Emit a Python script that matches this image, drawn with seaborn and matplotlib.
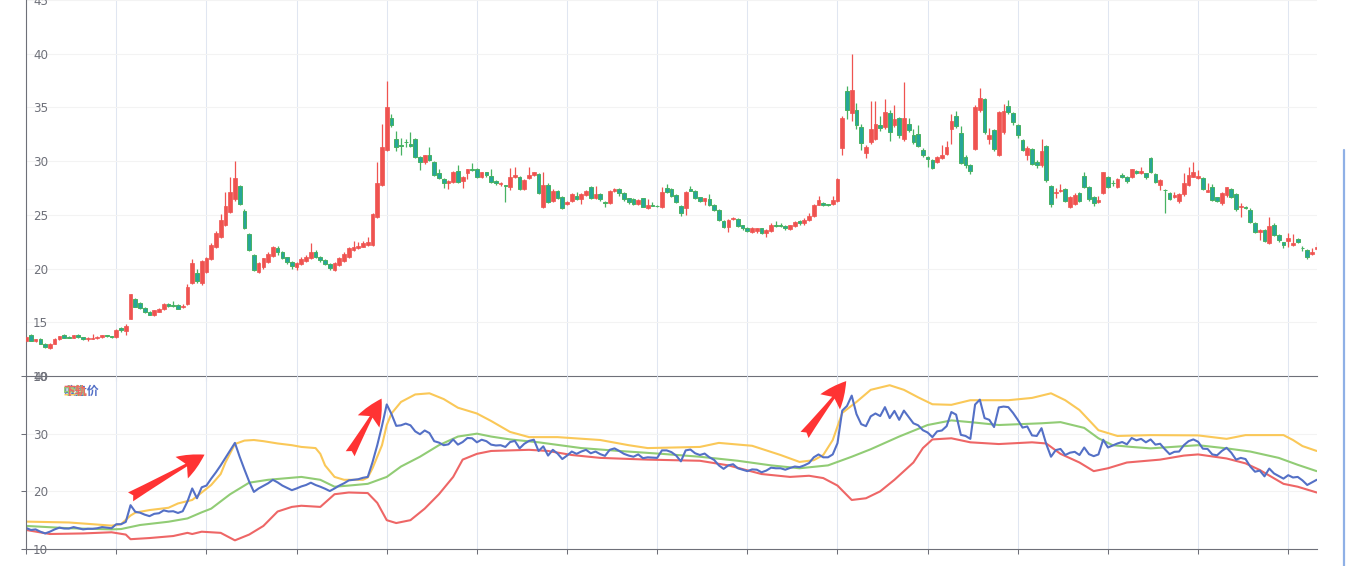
import numpy as np
import matplotlib
matplotlib.use("Agg")
import matplotlib.pyplot as plt
from matplotlib.lines import Line2D
import seaborn as sns

# ---------------- data ----------------
opens = [13.3, 13.8, 13.3, 13.4, 13.0, 12.65, 13.0, 13.4, 13.85, 13.6, 13.55, 13.85, 13.6, 13.4, 13.45, 13.5, 13.6, 13.8, 13.7, 13.6,
         14.45, 14.2, 15.35, 17.2, 16.8, 16.3, 16.0, 15.65, 16.0, 16.2, 16.7, 16.65, 16.6, 16.4, 16.7, 18.7, 19.6, 18.7, 19.7, 20.85,
         22.0, 22.9, 24.1, 25.3, 26.5, 27.7, 25.4, 23.2, 21.3, 19.65, 20.1, 20.6, 21.2, 21.95, 21.5, 21.05, 20.6, 20.1, 20.4, 20.7,
         21.0, 21.5, 21.1, 20.8, 20.45, 19.85, 20.3, 20.7, 21.1, 21.7, 21.9, 22.05, 22.2, 22.2, 24.8, 27.8, 31.0, 34.0, 32.1, 31.5,
         31.8, 31.55, 32.1, 30.4, 29.9, 30.6, 29.9, 28.85, 28.3, 28.0, 28.1, 29.1, 28.15, 28.85, 29.3, 29.3, 28.55, 28.95, 28.65, 28.15,
         27.85, 27.75, 27.55, 28.55, 28.55, 27.4, 28.4, 28.7, 28.8, 25.7, 27.8, 26.3, 27.2, 26.7, 26.05, 26.3, 26.8, 26.45, 26.85, 27.6,
         26.6, 26.95, 26.2, 26.1, 27.2, 27.45, 27.0, 26.55, 26.5, 26.0, 26.55, 25.6, 25.95, 25.85, 25.7, 27.5, 27.45, 26.85, 25.85, 25.6,
         27.45, 27.2, 26.65, 26.3, 26.5, 25.95, 25.45, 24.4, 23.9, 24.6, 24.65, 24.05, 23.8, 23.45, 23.5, 23.75, 23.3, 23.5, 24.1, 24.05,
         24.0, 23.7, 24.0, 24.4, 24.2, 24.5, 24.9, 25.95, 26.1, 26.0, 26.0, 26.3, 31.2, 36.5, 34.5, 34.8, 33.2, 30.8, 31.75, 32.1,
         33.4, 33.2, 34.5, 33.4, 34.0, 32.1, 33.5, 32.4, 32.5, 31.0, 30.35, 30.1, 29.9, 30.3, 30.7, 33.0, 34.2, 32.6, 30.4, 29.6,
         31.1, 34.75, 35.75, 32.1, 32.9, 30.6, 32.7, 35.1, 34.5, 33.4, 32.0, 30.6, 31.1, 29.9, 29.6, 31.4, 27.7, 27.05, 27.2, 27.4,
         25.7, 26.0, 27.05, 28.6, 27.6, 26.7, 26.2, 27.05, 28.5, 28.0, 27.55, 28.7, 28.55, 28.5, 29.1, 28.9, 28.85, 30.3, 28.8, 27.8,
         27.35, 27.0, 26.7, 26.3, 26.9, 27.8, 28.55, 28.4, 28.4, 27.15, 27.55, 26.65, 26.1, 26.85, 27.4, 26.95, 25.7, 25.75, 25.45, 24.2,
         23.45, 23.6, 22.35, 24.05, 23.1, 22.45, 22.6, 22.2, 22.75, 21.95, 21.75, 21.4, 21.8]
highs = [13.7, 13.9, 13.45, 13.5, 13.1, 13.05, 13.5, 13.75, 13.95, 13.7, 13.85, 13.9, 13.65, 13.6, 13.95, 13.7, 13.85, 13.85, 13.75, 14.35,
         14.55, 14.8, 17.65, 17.3, 16.9, 16.4, 16.05, 16.15, 16.3, 16.75, 16.8, 17.0, 16.7, 16.7, 18.6, 20.9, 20.0, 20.8, 21.1, 22.4,
         23.5, 25.1, 27.1, 28.55, 30.0, 27.8, 25.5, 23.3, 21.4, 20.6, 21.0, 21.5, 22.1, 22.1, 21.6, 21.1, 20.7, 20.6, 21.1, 21.3,
         22.35, 21.7, 21.2, 20.9, 20.5, 20.6, 21.1, 21.5, 22.0, 22.6, 22.5, 22.6, 22.9, 25.2, 29.95, 33.5, 37.46, 34.4, 32.8, 32.2,
         32.1, 32.7, 32.2, 30.5, 30.6, 31.3, 30.0, 29.3, 28.4, 28.2, 29.1, 29.6, 28.6, 29.3, 29.8, 29.4, 29.0, 29.0, 29.3, 28.2,
         28.1, 27.8, 29.4, 29.5, 28.6, 28.3, 29.5, 29.0, 28.9, 29.0, 28.0, 27.4, 27.3, 26.8, 26.3, 27.0, 27.1, 27.0, 27.3, 27.7,
         27.7, 27.0, 26.3, 27.3, 27.5, 27.5, 27.1, 26.6, 26.6, 26.5, 26.6, 26.5, 26.2, 25.9, 27.6, 27.9, 27.5, 26.9, 25.9, 27.2,
         27.7, 27.3, 26.7, 26.6, 26.9, 26.0, 25.5, 24.5, 24.6, 24.8, 24.7, 24.1, 23.9, 23.9, 23.8, 23.8, 23.7, 24.2, 24.4, 24.2,
         24.1, 24.1, 24.4, 24.5, 24.7, 25.2, 26.0, 26.8, 26.2, 26.05, 26.8, 28.4, 34.2, 37.0, 40.0, 35.4, 33.5, 31.5, 35.6, 35.6,
         34.2, 35.8, 34.8, 35.2, 34.1, 37.4, 34.0, 33.0, 33.4, 31.2, 30.5, 30.2, 30.5, 31.5, 31.9, 34.4, 34.7, 33.3, 30.6, 29.7,
         35.2, 36.8, 35.9, 33.1, 33.0, 34.7, 35.3, 35.7, 34.6, 33.5, 32.1, 31.4, 31.2, 30.1, 32.1, 31.5, 27.8, 27.5, 27.9, 27.5,
         26.8, 27.0, 27.1, 28.96, 27.7, 26.8, 26.8, 29.0, 28.6, 28.2, 28.4, 28.9, 28.6, 29.3, 29.2, 29.5, 28.9, 30.4, 28.9, 28.3,
         27.4, 27.1, 27.1, 27.0, 28.9, 29.5, 29.9, 29.2, 28.5, 28.0, 27.9, 26.7, 27.1, 27.6, 27.5, 27.0, 26.1, 25.8, 25.6, 24.3,
         23.7, 23.7, 24.8, 24.2, 23.2, 22.5, 23.3, 23.2, 22.8, 22.1, 21.8, 21.9, 22.5]
lows = [13.2, 13.25, 13.2, 12.95, 12.6, 12.55, 12.95, 13.35, 13.5, 13.5, 13.5, 13.55, 13.35, 13.3, 13.4, 13.45, 13.55, 13.6, 13.55, 13.55,
        14.1, 13.8, 15.3, 16.4, 16.2, 15.9, 15.65, 15.55, 15.95, 16.15, 16.45, 16.4, 16.2, 16.35, 16.65, 18.6, 18.7, 18.5, 19.6, 20.8,
        21.9, 22.8, 24.0, 25.2, 26.3, 25.9, 23.7, 21.6, 19.8, 19.6, 20.0, 20.5, 21.1, 21.3, 20.9, 20.4, 20.0, 19.9, 20.3, 20.6,
        20.9, 21.0, 20.6, 20.3, 19.9, 19.8, 20.2, 20.6, 21.0, 21.6, 21.8, 22.0, 22.1, 22.1, 24.7, 27.7, 30.9, 33.2, 30.9, 30.6,
        31.3, 31.3, 30.3, 29.2, 29.7, 30.0, 28.6, 28.3, 27.5, 27.4, 28.0, 28.0, 27.5, 28.3, 29.1, 28.4, 28.4, 28.5, 28.0, 27.8,
        27.7, 26.2, 27.3, 28.4, 27.3, 27.3, 28.3, 28.6, 26.9, 25.6, 26.1, 26.2, 26.5, 25.5, 25.9, 26.2, 26.4, 26.0, 26.8, 26.5,
        26.5, 26.3, 25.7, 26.0, 27.1, 26.8, 26.3, 26.0, 25.9, 25.9, 25.7, 25.5, 25.8, 25.7, 25.6, 27.0, 26.7, 26.1, 24.9, 25.0,
        27.2, 26.5, 26.2, 25.9, 25.8, 25.4, 24.4, 23.8, 23.4, 24.5, 23.9, 23.6, 23.4, 23.3, 23.3, 23.2, 22.9, 23.4, 23.9, 23.9,
        23.6, 23.6, 23.9, 24.1, 24.1, 24.4, 24.8, 25.9, 25.8, 25.8, 25.9, 26.2, 30.6, 33.9, 33.7, 33.0, 31.0, 30.3, 31.6, 32.0,
        32.8, 33.0, 31.9, 33.2, 32.2, 31.9, 32.7, 31.6, 31.3, 30.4, 29.5, 29.3, 29.8, 30.2, 30.6, 31.6, 33.1, 29.7, 29.4, 28.8,
        31.0, 34.6, 32.5, 31.6, 30.9, 30.5, 32.5, 34.4, 33.4, 32.2, 30.9, 30.1, 29.6, 29.4, 29.5, 28.1, 25.7, 26.6, 27.1, 26.2,
        25.6, 25.9, 26.2, 27.5, 26.3, 25.8, 26.1, 26.9, 27.5, 27.7, 27.5, 28.4, 28.0, 28.4, 28.8, 28.8, 28.3, 28.9, 28.0, 27.3,
        25.15, 26.4, 26.6, 26.1, 26.8, 27.7, 28.5, 28.3, 27.3, 27.1, 26.3, 26.2, 25.9, 26.7, 26.6, 25.4, 24.8, 25.5, 24.2, 23.3,
        22.7, 22.5, 22.3, 23.0, 22.5, 21.9, 22.0, 22.1, 22.4, 21.6, 20.9, 21.3, 21.7]
closes = [13.65, 13.3, 13.4, 13.0, 12.7, 13.0, 13.4, 13.7, 13.55, 13.55, 13.8, 13.6, 13.4, 13.5, 13.5, 13.6, 13.8, 13.7, 13.6, 14.3,
          14.3, 14.7, 17.6, 16.45, 16.3, 15.95, 15.7, 16.1, 16.2, 16.7, 16.5, 16.55, 16.25, 16.55, 18.25, 20.5, 18.8, 20.7, 21.0, 22.2,
          23.3, 24.5, 25.8, 27.1, 28.4, 26.0, 23.8, 21.7, 19.9, 20.5, 20.95, 21.4, 22.0, 21.55, 21.0, 20.6, 20.2, 20.5, 20.85, 21.1,
          21.5, 21.1, 20.8, 20.45, 20.05, 20.5, 21.0, 21.4, 21.9, 22.0, 22.1, 22.35, 22.5, 25.05, 28.0, 31.35, 35.07, 33.4, 31.35, 31.45,
          31.75, 31.45, 30.4, 29.9, 30.55, 30.1, 28.7, 28.45, 28.0, 28.15, 29.0, 28.1, 28.55, 29.25, 29.2, 28.5, 28.95, 28.7, 28.1, 27.95,
          28.0, 27.7, 28.55, 28.75, 27.45, 28.25, 28.75, 28.95, 27.0, 27.8, 26.2, 27.2, 26.55, 25.6, 26.2, 26.9, 26.5, 26.9, 27.2, 26.6,
          26.9, 26.45, 26.15, 27.2, 27.45, 27.0, 26.5, 26.2, 26.0, 26.4, 25.75, 25.9, 25.85, 25.8, 27.1, 27.1, 26.8, 26.2, 25.2, 27.1,
          27.25, 26.6, 26.3, 26.55, 25.9, 25.45, 24.5, 23.9, 24.5, 24.7, 24.0, 23.75, 23.5, 23.8, 23.75, 23.3, 23.6, 24.1, 24.0, 24.0,
          23.75, 24.05, 24.3, 24.2, 24.5, 24.9, 25.9, 26.4, 25.9, 25.9, 26.4, 28.35, 34.0, 34.8, 36.6, 33.4, 31.65, 31.3, 33.0, 33.5,
          33.05, 34.6, 32.7, 33.95, 32.4, 34.0, 32.9, 31.8, 31.45, 30.6, 30.2, 29.4, 30.4, 30.55, 31.3, 33.75, 33.3, 29.8, 29.6, 29.1,
          35.05, 35.9, 32.7, 32.4, 31.15, 34.55, 34.7, 34.6, 33.6, 32.4, 31.05, 31.25, 29.7, 29.6, 30.95, 28.2, 26.0, 27.15, 27.35, 26.3,
          26.7, 26.85, 26.3, 27.6, 26.45, 26.1, 26.4, 28.95, 27.6, 27.95, 28.3, 28.55, 28.15, 29.25, 28.85, 29.1, 28.5, 29.0, 28.1, 28.25,
          27.3, 26.45, 26.85, 26.9, 28.0, 28.7, 29.0, 28.6, 27.4, 27.35, 26.4, 26.25, 27.0, 27.55, 26.7, 25.5, 25.8, 25.6, 24.3, 23.4,
          23.6, 22.6, 23.95, 23.1, 22.65, 22.2, 22.8, 22.4, 22.5, 21.9, 21.1, 21.55, 22.0]

# lower-panel band lines, read at selected category positions
upper_idx = [0, 9, 14, 18, 20, 22, 23, 26, 30, 32, 35, 37, 39, 41, 42, 44, 46, 48, 50, 53, 56, 58, 61, 62, 63, 65, 67, 71, 72, 73,
             75, 76, 77, 79, 82, 85, 88, 91, 93, 95, 98, 102, 106, 112, 121, 127, 131, 142, 146, 153, 159, 163, 166, 168, 170, 172,
             175, 178, 182, 185, 188, 191, 195, 199, 203, 207, 212, 216, 219, 222, 226, 230, 237, 247, 253, 257, 265, 267, 269, 272]
upper = [14.75, 14.6, 14.3, 14.05, 14.3, 15.8, 16.3, 16.75, 17.15, 17.9, 18.5, 19.8, 21.1, 23.0, 25.0, 28.2, 28.8, 28.9, 28.7, 28.3,
         28.0, 27.7, 27.5, 26.5, 24.5, 22.5, 22.0, 22.0, 22.4, 24.0, 28.0, 31.5, 33.5, 35.5, 36.8, 37.0, 36.0, 34.5, 34.0, 33.5,
         32.2, 30.3, 29.4, 29.4, 28.9, 28.0, 27.5, 27.7, 28.4, 27.9, 26.3, 25.1, 25.4, 26.3, 28.9, 33.6, 35.5, 37.6, 38.4, 37.6,
         36.3, 35.1, 35.0, 35.8, 35.8, 35.8, 36.2, 37.0, 35.8, 34.1, 30.6, 29.6, 29.75, 29.7, 29.1, 29.75, 29.75, 28.9, 27.85, 27.0]
middle_idx = [0, 9, 18, 20, 24, 30, 34, 37, 39, 43, 47, 51, 58, 62, 65, 68, 72, 76, 79, 83, 87, 91, 95, 98, 102, 108, 117, 125,
              134, 142, 150, 157, 163, 169, 174, 178, 184, 190, 195, 199, 205, 214, 218, 223, 226, 229, 233, 237, 247, 253, 258,
              264, 268, 272]
middle = [14.0, 13.6, 13.4, 13.46, 14.16, 14.73, 15.3, 16.36, 17.0, 19.5, 21.5, 22.0, 22.5, 22.0, 20.8, 21.0, 21.3, 22.5, 24.3,
          26.0, 28.0, 29.5, 30.0, 29.5, 29.0, 28.5, 27.5, 27.0, 26.5, 26.0, 25.3, 24.5, 24.0, 24.5, 26.0, 27.3, 29.5, 31.5, 32.3,
          32.0, 31.5, 31.8, 32.0, 31.0, 29.2, 28.0, 27.7, 27.45, 28.0, 27.45, 26.9, 25.8, 24.6, 23.5]
lower_idx = [0, 5, 12, 18, 21, 22, 26, 31, 34, 35, 37, 41, 44, 47, 50, 53, 56, 58, 62, 65, 68, 72, 74, 76, 78, 81, 84, 87, 90, 92,
             95, 98, 106, 110, 115, 121, 131, 142, 148, 155, 161, 165, 168, 171, 174, 177, 180, 183, 187, 189, 191, 195, 199, 205,
             212, 215, 218, 222, 225, 228, 232, 239, 244, 247, 253, 257, 260, 265, 268, 272]
lower = [13.3, 12.6, 12.7, 12.9, 12.5, 11.7, 11.9, 12.25, 12.8, 12.6, 13.0, 12.8, 11.5, 12.5, 14.0, 16.5, 17.3, 17.5, 17.3, 19.5,
         19.8, 19.7, 18.0, 15.0, 14.5, 15.0, 17.0, 19.5, 22.5, 25.5, 26.5, 27.0, 27.2, 27.0, 26.3, 25.8, 25.5, 25.3, 24.5, 23.0,
         22.5, 22.7, 22.3, 21.0, 18.5, 18.8, 20.0, 22.0, 25.0, 27.5, 29.0, 29.2, 28.5, 28.2, 28.5, 28.3, 26.5, 25.0, 23.5, 24.0,
         25.0, 25.5, 26.2, 26.4, 25.7, 24.85, 23.7, 21.3, 20.8, 19.8]

series_names = ["上轨", "中轨", "下轨", "收盘价"]

# ---------------- style ----------------
RED = "#ef5350"
TEAL = "#26a69a"
GREEN_EDGE = "#47b262"
AXIS = "#6e7079"
VGRID = "#e0e6f1"
HGRID = "#f3f3f3"
C_BLUE, C_YELLOW, C_GREEN, C_RED = "#5470c6", "#fac858", "#91cc75", "#ee6666"

sns.set_theme(style="white")
plt.rcParams["font.family"] = ["Noto Sans CJK SC", "DejaVu Sans"]

W_PX, H_PX = 1346, 566
fig = plt.figure(figsize=(W_PX / 100, H_PX / 100), dpi=100)
left = 26.15 / W_PX
width = (1316.7 - 26.15) / W_PX
ax1 = fig.add_axes([left, (H_PX - 376) / H_PX, width, 376 / H_PX])
ax2 = fig.add_axes([left, (H_PX - 549) / H_PX, width, (549 - 376) / H_PX])

O = np.array(opens); Hh = np.array(highs); Ll = np.array(lows); Cc = np.array(closes)
n = len(Cc)
x = np.arange(n)
up = Cc >= O

# candles
ax1.vlines(x[up], Ll[up], Hh[up], color=RED, lw=0.9, zorder=2)
ax1.vlines(x[~up], Ll[~up], Hh[~up], color=GREEN_EDGE, lw=0.9, zorder=2)
body_lo = np.minimum(O, Cc)
body_h = np.maximum(np.abs(Cc - O), 0.05)
ax1.bar(x[up], body_h[up], bottom=body_lo[up], width=0.78, color=RED, edgecolor=RED, lw=0.5, zorder=3)
ax1.bar(x[~up], body_h[~up], bottom=body_lo[~up], width=0.78, color=TEAL, edgecolor=GREEN_EDGE, lw=0.7, zorder=3)

# lower panel lines
lw = 1.5
sns.lineplot(x=upper_idx, y=upper, ax=ax2, color=C_YELLOW, lw=lw, errorbar=None)
sns.lineplot(x=middle_idx, y=middle, ax=ax2, color=C_GREEN, lw=lw, errorbar=None)
sns.lineplot(x=lower_idx, y=lower, ax=ax2, color=C_RED, lw=lw, errorbar=None)
sns.lineplot(x=x, y=Cc, ax=ax2, color=C_BLUE, lw=lw, errorbar=None)

# overlapped series names (drawn at one spot, as in the reference)
for name, col in [(series_names[3], C_BLUE), (series_names[0], C_YELLOW),
                  (series_names[1], C_GREEN), (series_names[2], C_RED)]:
    ax2.text(63 / W_PX, (H_PX - 391.5) / H_PX, name, transform=fig.transFigure, color=col,
             fontsize=8.6, fontweight="bold", ha="left", va="center")

# axes formatting
tick_x = np.arange(0, n, 19)
for ax in (ax1, ax2):
    ax.set_xlim(0, n - 1)
    ax.set_xticks(tick_x)
    ax.set_xticklabels([])
    ax.grid(False)
    for t in tick_x:
        ax.axvline(t, color=VGRID, lw=0.75, zorder=0)
    for s in ["top", "right"]:
        ax.spines[s].set_visible(False)
    for s in ["left", "bottom"]:
        ax.spines[s].set_color(AXIS)
        ax.spines[s].set_linewidth(0.8)
    ax.tick_params(axis="x", direction="out", length=3.6, width=0.75, color=AXIS, bottom=True)
    ax.set_xlabel("")
    ax.set_ylabel("")
    ax.set_facecolor("none")

ax1.set_ylim(10, 45)
ax1.set_yticks(range(10, 46, 5))
for v in range(15, 46, 5):
    ax1.axhline(v, color=HGRID, lw=0.75, zorder=0)
ax1.tick_params(axis="y", length=0, pad=-5, labelsize=8.6, labelcolor=AXIS, left=True)
for t in ax1.get_yticklabels():
    t.set_horizontalalignment("left")
    t.set_fontfamily("DejaVu Sans")

ax2.set_ylim(10, 40)
ax2.set_yticks([10, 20, 30, 40])
for v in (20, 30):
    ax2.axhline(v, color=HGRID, lw=0.75, zorder=0)
ax2.tick_params(axis="y", direction="out", length=3.6, width=0.75, color=AXIS, pad=-8.6,
                labelsize=8.6, labelcolor=AXIS, left=True)
for t in ax2.get_yticklabels():
    t.set_horizontalalignment("left")
    t.set_fontfamily("DejaVu Sans")

# red arrows (annotations)
arrows = [((21.5, 18.8), (38.1, 26.6)), ((68.0, 26.1), (75.2, 36.5)), ((163.7, 29.4), (173.2, 39.5))]
for tail, tip in arrows:
    ax2.annotate("", xy=tip, xytext=tail, annotation_clip=False,
                 arrowprops=dict(arrowstyle="fancy,head_length=0.9,head_width=0.85,tail_width=0.35",
                                 mutation_scale=21, fc="#ff3333", ec="none"), zorder=6)

# right-hand blue bar of the page
fig.add_artist(Line2D([1344 / W_PX, 1344 / W_PX], [0, (H_PX - 150) / H_PX], color="#8fb0e6", lw=1.6))

fig.savefig("out.png", dpi=100)
